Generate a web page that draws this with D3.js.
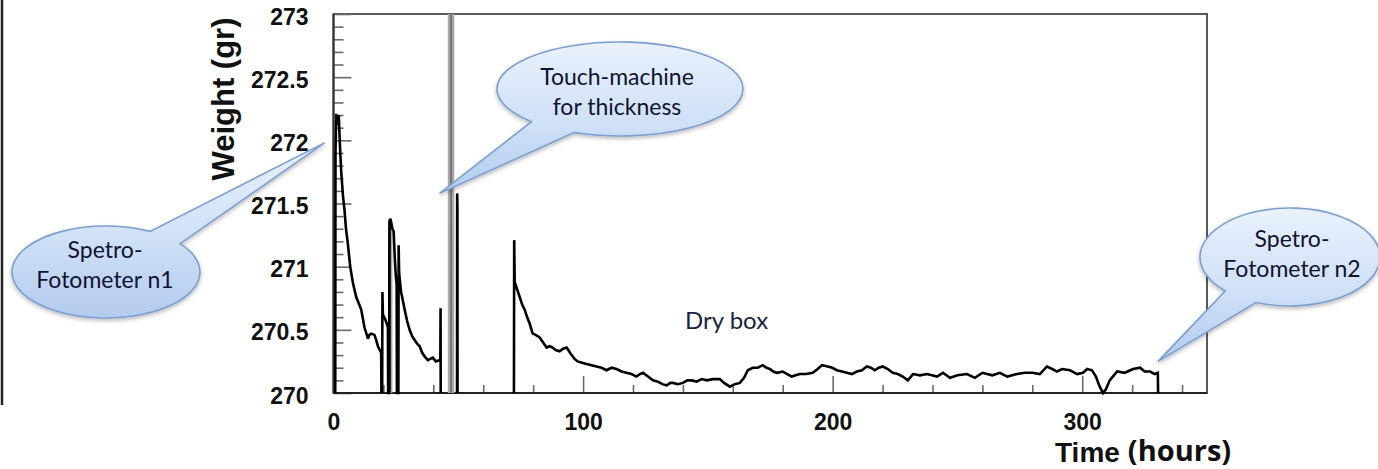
<!DOCTYPE html>
<html>
<head>
<meta charset="utf-8">
<script src="https://cdn.jsdelivr.net/npm/d3@7"></script>
<style>
  html, body { margin: 0; padding: 0; background: #fff; }
  svg { display: block; }
</style>
</head>
<body>
<svg id="chart" width="1378" height="469"></svg>
<script>
// ---- Weight readings, [hours, grams]; each run is one continuous trace ----
const run1 = [[0.7,270],[0.8,271.9],[1.1,272.21],[1.6,272.12],[2.1,272.2],[2.6,271.95],[3.1,271.75],[3.8,271.56],[4.4,271.45],[5.0,271.3],[5.7,271.19],[6.7,271.0],[7.8,270.87],[9.1,270.76],[10.1,270.71],[11.1,270.66],[12.4,270.52],[13.8,270.43],[14.4,270.46],[15.1,270.47],[16.4,270.46],[17.1,270.42],[17.8,270.37],[19.1,270.32],[19.2,270]];
const run2 = [[19.5,270],[19.6,270.8],[19.8,270.62],[20.8,270.58],[21.5,270.54],[21.8,270.52],[21.9,270],[22.3,270],[22.4,271.36],[22.8,271.38],[23.2,271.34],[23.6,271.3],[24.1,271.28],[24.6,271.05],[25.0,270.92],[25.3,270.86],[25.4,270],[26.0,270],[26.1,271.17],[26.3,270.95],[26.8,270.85],[27.1,270.8],[28.5,270.66],[29.5,270.57],[30.5,270.5],[31.5,270.45],[32.5,270.42],[33.5,270.39],[34.5,270.37],[35.5,270.32],[36.5,270.29],[37.8,270.26],[38.8,270.27],[39.8,270.28],[41,270.25],[42.5,270.26],[42.8,270.25],[42.9,270.67],[42.95,270]];
const run3 = [[49.5,270],[49.55,271.58],[49.65,271.45],[49.7,270]];
const run4 = [[72.3,270],[72.4,271.21],[72.6,270.88],[73.6,270.82],[74.6,270.76],[75.6,270.7],[76.6,270.66],[77.6,270.6],[78.6,270.55],[79.8,270.47],[81,270.46],[82.6,270.44],[84,270.4],[85.4,270.36],[86.6,270.37],[87.8,270.36],[89,270.34],[90.6,270.33],[92,270.35],[93.4,270.36],[94.4,270.33],[95.4,270.30],[96.6,270.27],[97.8,270.25],[99.6,270.24],[101.4,270.23],[103.4,270.22],[105.4,270.21],[107.4,270.2],[109.4,270.18],[111.4,270.2],[113.4,270.19],[115.4,270.17],[117.4,270.16],[119.4,270.15],[121.4,270.13],[122.8,270.15],[124,270.16],[126,270.13],[128,270.10],[130,270.09],[131.8,270.07],[133.5,270.06],[135,270.08],[136,270.08],[138,270.07],[140,270.08],[141.8,270.1],[143.5,270.1],[145.5,270.09],[147.5,270.11],[149.6,270.1],[152,270.11],[154.8,270.11],[156.5,270.08],[158.8,270.05],[160.8,270.07],[162.8,270.08],[164.5,270.12],[166,270.18],[168,270.2],[170,270.2],[172,270.22],[173.5,270.2],[174.8,270.19],[176.2,270.17],[177.6,270.16],[180,270.17],[181.8,270.15],[183.6,270.13],[185.2,270.14],[186.8,270.15],[189.4,270.15],[192,270.16],[194,270.19],[195.7,270.22],[198.1,270.21],[199.8,270.2],[201.7,270.18],[203.7,270.17],[205.7,270.16],[207.7,270.15],[209.7,270.17],[211.7,270.18],[213.7,270.21],[215.3,270.2],[216.9,270.18],[218.5,270.2],[220.1,270.21],[222.1,270.19],[224.1,270.16],[226.1,270.15],[228.1,270.13],[230.1,270.1],[232.2,270.15],[235,270.14],[237.8,270.15],[239.8,270.14],[241.8,270.13],[244.2,270.16],[247,270.12],[250,270.14],[253.8,270.15],[257,270.12],[260,270.16],[264,270.14],[267,270.16],[270,270.13],[273.8,270.15],[277,270.16],[280,270.16],[283,270.15],[285.9,270.21],[288,270.19],[289.9,270.17],[292,270.19],[295.1,270.18],[298,270.15],[300.3,270.16],[302,270.19],[303.9,270.18],[305.5,270.13],[306.8,270.06],[308.3,270.0],[309.5,270.03],[311,270.1],[314,270.17],[317,270.16],[320.4,270.19],[323.2,270.2],[325,270.17],[327.2,270.17],[329,270.15],[330.3,270.16],[330.4,270]];

// Bursts of rapid readings (rendered as shaded bands): start, end, peak
const burstFrom = [22.0, 45.8];
const burstTo   = [23.6, 48.4];
const burstTop  = [271.36, 273.0];

// Axis ticks and labels
const xTickValues = [0, 100, 200, 300];
const xTickLabels = ["0", "100", "200", "300"];
const yTickValues = [270, 270.5, 271, 271.5, 272, 272.5, 273];
const yTickLabels = ["270", "270.5", "271", "271.5", "272", "272.5", "273"];

// Annotation texts and the reading each one points at [hours, grams]
const noteLines = [["Spetro-", "Fotometer n1"], ["Touch-machine", "for thickness"], ["Spetro-", "Fotometer n2"]];
const noteTarget = [[-3.6, 271.98], [42.5, 271.58], [330.4, 270.25]];

// ---------------------------------------------------------------------------
const svg = d3.select("#chart");
const plot = { left: 333.5, right: 1207, top: 14, bottom: 393 };

const x = d3.scaleLinear().domain([0, 350]).range([plot.left, plot.right]);
const y = d3.scaleLinear().domain([270, 273]).range([plot.bottom, plot.top]);

const defs = svg.append("defs");
const grad = defs.append("linearGradient").attr("id", "calloutFill")
  .attr("x1", 0).attr("y1", 0).attr("x2", 0).attr("y2", 1);
grad.append("stop").attr("offset", "0%").attr("stop-color", "#e9f1fc");
grad.append("stop").attr("offset", "55%").attr("stop-color", "#cfe0f7");
grad.append("stop").attr("offset", "100%").attr("stop-color", "#b3cbee");
const shadow = defs.append("filter").attr("id", "softShadow")
  .attr("x", "-20%").attr("y", "-20%").attr("width", "140%").attr("height", "150%");
shadow.append("feDropShadow").attr("dx", 0).attr("dy", 2).attr("stdDeviation", 2)
  .attr("flood-color", "#000").attr("flood-opacity", 0.28);

// Thin rule at the left edge of the slide
svg.append("line").attr("x1", 2).attr("x2", 2).attr("y1", 0).attr("y2", 405)
  .attr("stroke", "#222").attr("stroke-width", 2.5);

// Plot frame
svg.append("rect")
  .attr("x", plot.left).attr("y", plot.top)
  .attr("width", plot.right - plot.left).attr("height", plot.bottom - plot.top)
  .attr("fill", "none").attr("stroke", "#5a5a5a").attr("stroke-width", 2);

// Minor ticks
const yMinor = d3.range(270.1, 273, 0.1).filter(v => Math.abs(v * 2 - Math.round(v * 2)) > 1e-6);
const xMinor = d3.range(20, 350, 20).filter(v => v % 100 !== 0);

const yMinorAxis = d3.axisLeft(y).tickValues(yMinor).tickSize(-10).tickFormat("");
const xMinorAxis = d3.axisBottom(x).tickValues(xMinor).tickSize(-8).tickFormat("");
svg.append("g").attr("transform", `translate(${plot.left},0)`).call(yMinorAxis);
svg.append("g").attr("transform", `translate(0,${plot.bottom})`).call(xMinorAxis);

// Major ticks with labels
const yAxis = d3.axisLeft(y).tickValues(yTickValues).tickSize(-18).tickPadding(25)
  .tickFormat((d, i) => yTickLabels[i]);
const xAxis = d3.axisBottom(x).tickValues(xTickValues).tickSize(-17).tickPadding(21)
  .tickFormat((d, i) => xTickLabels[i]);
const gy = svg.append("g").attr("transform", `translate(${plot.left},0)`).call(yAxis);
const gx = svg.append("g").attr("transform", `translate(0,${plot.bottom})`).call(xAxis);

svg.selectAll(".domain").remove();
svg.selectAll(".tick line").attr("stroke", "#6a6a6a").attr("stroke-width", 1.6);
svg.selectAll(".tick text")
  .attr("font-family", "'Liberation Sans', Arial, sans-serif")
  .attr("font-weight", "bold").attr("font-size", 23).attr("fill", "#111");
gy.selectAll(".tick text").attr("dy", "10px");

// Left and bottom axis lines
svg.append("line").attr("x1", plot.left).attr("x2", plot.left)
  .attr("y1", plot.top).attr("y2", plot.bottom).attr("stroke", "#333").attr("stroke-width", 2);
svg.append("line").attr("x1", plot.left).attr("x2", plot.right)
  .attr("y1", plot.bottom).attr("y2", plot.bottom).attr("stroke", "#222").attr("stroke-width", 2.2);

// Bursts
const bursts = burstFrom.map((f, i) => ({ from: f, to: burstTo[i], top: burstTop[i] }));
const gb = svg.append("g");
gb.selectAll("rect").data(bursts).join("rect")
  .attr("x", d => x(d.from)).attr("width", d => x(d.to) - x(d.from))
  .attr("y", d => y(d.top)).attr("height", d => y(270) - y(d.top))
  .attr("fill", "#a9a9a9");
gb.selectAll("line").data(bursts).join("line")
  .attr("x1", d => x((d.from + d.to) / 2)).attr("x2", d => x((d.from + d.to) / 2))
  .attr("y1", d => y(d.top)).attr("y2", y(270))
  .attr("stroke", "#555").attr("stroke-width", 1.2);

// Weight trace
const line = d3.line().x(d => x(d[0])).y(d => y(d[1]));
svg.append("g").selectAll("path").data([run1, run2, run3, run4]).join("path")
  .attr("d", line)
  .attr("fill", "none").attr("stroke", "#000").attr("stroke-width", 2.6)
  .attr("stroke-linejoin", "miter").attr("stroke-miterlimit", 2);

// Axis titles
svg.append("text")
  .attr("transform", "translate(234,99) rotate(-90)")
  .attr("text-anchor", "middle")
  .attr("font-family", "'Liberation Sans', Arial, sans-serif")
  .attr("font-weight", "bold").attr("font-size", 31).attr("fill", "#111")
  .text("Weight (gr)");
const xt = svg.append("text").attr("x", 1055).attr("y", 462).attr("fill", "#111");
xt.append("tspan")
  .attr("font-family", "'Liberation Sans', Arial, sans-serif")
  .attr("font-weight", "bold").attr("font-size", 28).text("Time");
xt.append("tspan").attr("dx", 8).attr("dy", -1)
  .attr("font-family", "'Open Sans', Lato, sans-serif")
  .attr("font-weight", "bold").attr("font-size", 29).text("(hours)");

// Region label
svg.append("text").attr("x", 685).attr("y", 329)
  .attr("font-family", "Lato, 'Open Sans', sans-serif")
  .attr("font-size", 24).attr("fill", "#1a2442").text("Dry box");

// Callouts: ellipse with a pointed tail toward the target reading
const callouts = [
  { cx: 106, cy: 272, rx: 94, ry: 46, a0: -62, a1: -38, tx: 105, base: 258 },
  { cx: 620, cy: 89, rx: 123, ry: 47, a0: 112, a1: 136, tx: 617, base: 85 },
  { cx: 1290, cy: 257, rx: 90, ry: 49, a0: 112, a1: 136, tx: 1292, base: 247 }
];
callouts.forEach((c, i) => {
  const pt = a => [c.cx + c.rx * Math.cos(a * Math.PI / 180), c.cy + c.ry * Math.sin(a * Math.PI / 180)];
  const p0 = pt(c.a0), p1 = pt(c.a1);
  const tip = [x(noteTarget[i][0]), y(noteTarget[i][1])];
  const d = `M${p1[0]},${p1[1]} A${c.rx},${c.ry} 0 1 1 ${p0[0]},${p0[1]} L${tip[0]},${tip[1]} Z`;
  svg.append("path").attr("d", d)
    .attr("fill", "url(#calloutFill)").attr("stroke", "#7c9fd0").attr("stroke-width", 1.6)
    .attr("filter", "url(#softShadow)");
  const t = svg.append("text").attr("text-anchor", "middle")
    .attr("font-family", "Lato, 'Open Sans', sans-serif")
    .attr("font-size", 23).attr("fill", "#0f1331");
  noteLines[i].forEach((s, j) => {
    t.append("tspan").attr("x", c.tx).attr("y", c.base + j * 29.5).text(s);
  });
});
</script>
</body>
</html>
